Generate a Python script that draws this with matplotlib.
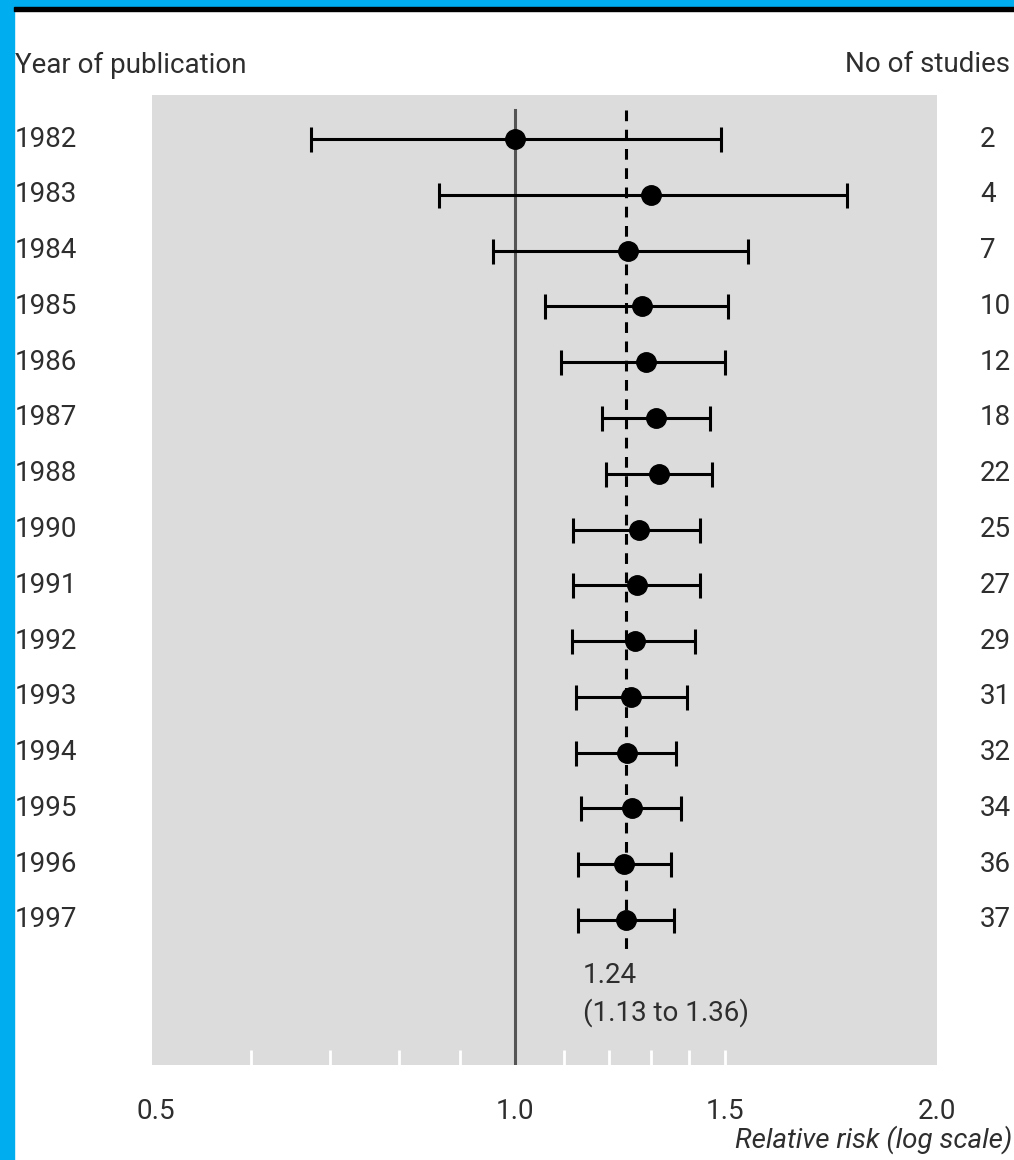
import numpy as np
import matplotlib.pyplot as plt
import matplotlib.transforms as mtransforms
from matplotlib.patches import Rectangle

years = ['1982', '1983', '1984', '1985', '1986', '1987', '1988', '1990',
         '1991', '1992', '1993', '1994', '1995', '1996', '1997']
n_studies = [2, 4, 7, 10, 12, 18, 22, 25, 27, 29, 31, 32, 34, 36, 37]
rr = [1.00, 1.30, 1.244, 1.277, 1.288, 1.313, 1.32, 1.272, 1.265, 1.26,
      1.251, 1.242, 1.253, 1.235, 1.24]
ci_low = [0.675, 0.863, 0.959, 1.06, 1.093, 1.184, 1.193, 1.119, 1.119,
          1.116, 1.126, 1.126, 1.137, 1.13, 1.13]
ci_high = [1.49, 1.90, 1.57, 1.51, 1.50, 1.457, 1.462, 1.431, 1.431, 1.417,
           1.395, 1.364, 1.377, 1.351, 1.36]
pooled = 1.24
pooled_text = ['1.24', '(1.13 to 1.36)']
major_ticks = [0.5, 1.0, 1.5]
major_labels = ['0.5', '1.0', '1.5', '2.0']
minor_ticks = [0.6, 0.7, 0.8, 0.9, 1.1, 1.2, 1.3, 1.4, 1.5]

plt.rcParams['font.family'] = ['Roboto', 'DejaVu Sans']
txt = '#2e2e2e'
fs = 20

W, H = 1014, 1160
fig = plt.figure(figsize=(W / 100, H / 100), dpi=100)

# blue frame + black rule at top
fig.patches.append(Rectangle((0, 0), 14 / W, 1, transform=fig.transFigure,
                             color='#00AEEF', zorder=0))
fig.patches.append(Rectangle((0, 1 - 7 / H), 1, 7 / H, transform=fig.transFigure,
                             color='#00AEEF', zorder=0))
fig.patches.append(Rectangle((14 / W, 1 - 11 / H), 1, 4 / H, transform=fig.transFigure,
                             color='black', zorder=1))

ax = fig.add_axes([152 / W, 95 / H, (937 - 152) / W, (1065 - 95) / H])
ax.set_facecolor('#dcdcdc')
for s in ax.spines.values():
    s.set_visible(False)

xmax = 2.26
ax.set_xscale('log')
ax.set_xlim(0.496, xmax)
ax.set_ylim(16.6, -0.79)

y = np.arange(len(years))
rr_a = np.array(rr)
err = np.vstack([rr_a - np.array(ci_low), np.array(ci_high) - rr_a])

ax.plot([1.0, 1.0], [-0.52, 16.6], color='#555555', lw=2.2, zorder=2)
ax.plot([pooled, pooled], [-0.52, 14.57], color='black', lw=2.2,
        dashes=(3.5, 2.8), zorder=2)

ax.errorbar(rr, y, xerr=err, fmt='o', color='black', ms=14, lw=2.2,
            capsize=9, capthick=2.2, zorder=3)

ax.text(1.14, 15.0, pooled_text[0], ha='left', va='center', fontsize=fs, color=txt)
ax.text(1.14, 15.66, pooled_text[1], ha='left', va='center', fontsize=fs, color=txt)

# x axis ticks
ax.set_xticks(major_ticks + [xmax])
ax.set_xticklabels(major_labels)
ax.set_xticks(minor_ticks, minor=True)
ax.xaxis.remove_overlapping_locs = False
ax.xaxis.set_minor_formatter(plt.NullFormatter())
ax.tick_params(axis='x', which='major', length=0, pad=24, labelsize=fs, labelcolor=txt)
ax.tick_params(axis='x', which='minor', direction='in', length=11, width=2, color='white')
ax.set_yticks([])

# row labels
trans = mtransforms.blended_transform_factory(fig.transFigure, ax.transData)
for yi, yr, n in zip(y, years, n_studies):
    ax.text(15 / W, yi, yr, transform=trans, ha='left', va='center',
            fontsize=fs, color=txt, clip_on=False)
    ax.text(980 / W, yi, str(n), transform=trans, ha='left', va='center',
            fontsize=fs, color=txt, clip_on=False)

fig.text(15 / W, 1 - 65 / H, 'Year of publication', ha='left', va='center',
         fontsize=fs, color=txt)
fig.text(1010 / W, 1 - 65 / H, 'No of studies', ha='right', va='center',
         fontsize=fs, color=txt)
fig.text(1012 / W, 1 - 1140 / H, 'Relative risk (log scale)', ha='right', va='center',
         fontsize=fs, color=txt, style='italic')

fig.savefig('out.png', dpi=100)
